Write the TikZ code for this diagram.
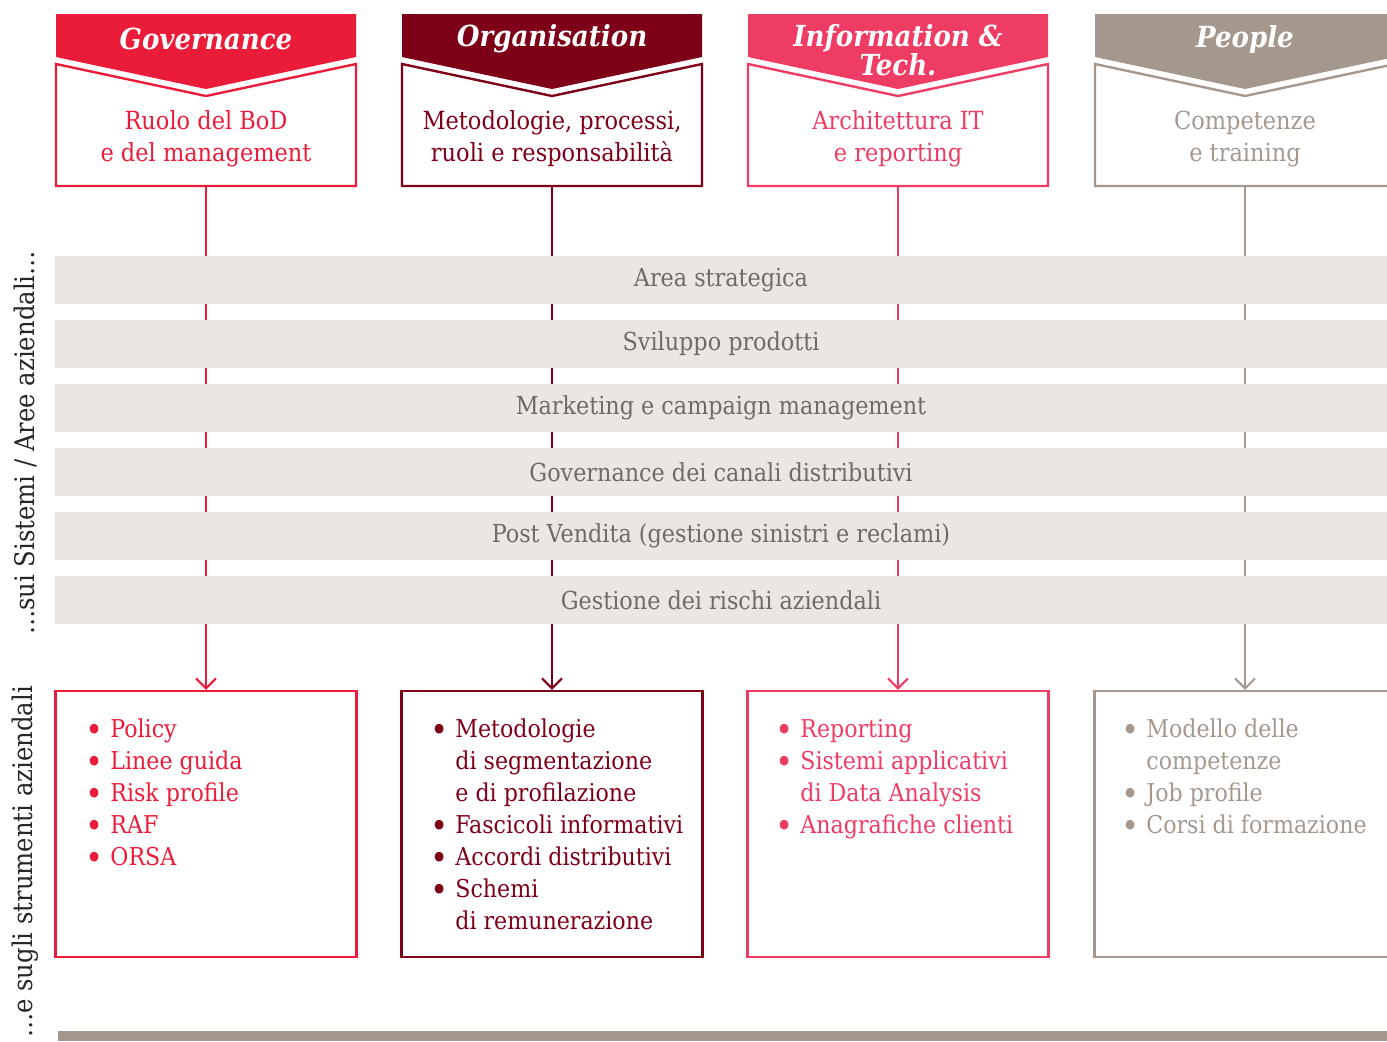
\documentclass[tikz,border=0pt]{standalone}
\usepackage{fontspec}
\setmainfont{DejaVu Serif Condensed}
\usetikzlibrary{arrows.meta}
\definecolor{govred}{RGB}{234,28,58}
\definecolor{orgred}{RGB}{126,0,24}
\definecolor{infpink}{RGB}{238,60,100}
\definecolor{taupe}{RGB}{164,152,142}
\definecolor{bandgray}{RGB}{234,230,227}
\definecolor{bandtext}{RGB}{110,106,102}
\definecolor{sidetext}{RGB}{38,38,38}
\newcommand{\bl}{\raisebox{-0.17em}{\scalebox{1.35}{\textbullet}}}

\begin{document}
\begin{tikzpicture}[x=0.5pt,y=-0.5pt,
  hdtitle/.style={text=white,align=center,font=\fontsize{14.5}{13.5}\selectfont\bfseries\itshape},
  hdtext/.style={align=center,font=\fontsize{12.5}{16}\selectfont},
  band/.style={fill=bandgray,minimum width=666pt,minimum height=24pt,inner sep=0pt,
    text=bandtext,font=\fontsize{12.4}{16}\selectfont},
  lowbox/.style={draw,line width=1.2pt,minimum width=150.5pt,minimum height=133pt,inner sep=0pt},
  items/.style={anchor=base west,inner sep=0pt,font=\fontsize{12.3}{16}\selectfont},
  flow/.style={line width=1pt,-{Straight Barb[length=5pt,width=10pt]}},
  side/.style={rotate=90,text=sidetext,font=\fontsize{13.5}{16}\selectfont}]
\useasboundingbox (0,0) rectangle (1387,1041);

% columns: header, box below, arrow
\foreach \cx/\n/\col/\ttl/\ty/\sub in {
  206/gov/govred/{Governance}/39/{Ruolo del BoD\\e del management},
  552/org/orgred/{Organisation}/39/{Metodologie, processi,\\ruoli e responsabilità},
  898/inf/infpink/{Information \&\\Tech.}/50/{Architettura IT\\e reporting},
  1245/peo/taupe/{People}/39/{Competenze\\e training}} {
  \fill[\col] (\cx-150,14) -- (\cx+150,14) -- (\cx+150,57) -- (\cx,89) -- (\cx-150,57) -- cycle;
  \draw[\col,line width=1.2pt] (\cx-150,64) -- (\cx,96) -- (\cx+150,64) -- (\cx+150,186) -- (\cx-150,186) -- cycle;
  \node[hdtitle] (\n-ttl) at (\cx,\ty) {\ttl};
  \node[hdtext,text=\col] (\n-sub) at (\cx,139) {\sub};
  \coordinate (\n-out) at (\cx,186);
  \node[lowbox,draw=\col] (\n-low) at (\cx,824) {};
  \draw[flow,\col] (\n-out) -- (\n-low.north);
}

% bands over the arrows
\foreach \t [count=\i from 0] in {Area strategica,Sviluppo prodotti,Marketing e campaign management,
  Governance dei canali distributivi,Post Vendita (gestione sinistri e reclami),Gestione dei rischi aziendali}
  \node[band] (band\i) at (721,280+64*\i) {\t};

% lists
\node[items,text=govred] (gov-list) at (85,737) {\begin{tabular}[t]{@{}p{12.5pt}@{}l@{}}
  \bl & Policy\\ \bl & Linee guida\\ \bl & Risk profile\\ \bl & RAF\\ \bl & ORSA\end{tabular}};
\node[items,text=orgred] (org-list) at (430,737) {\begin{tabular}[t]{@{}p{12.5pt}@{}l@{}}
  \bl & Metodologie\\ & di segmentazione\\ & e di profilazione\\ \bl & Fascicoli informativi\\
  \bl & Accordi distributivi\\ \bl & Schemi\\ & di remunerazione\end{tabular}};
\node[items,text=infpink] (inf-list) at (775,737) {\begin{tabular}[t]{@{}p{12.5pt}@{}l@{}}
  \bl & Reporting\\ \bl & Sistemi applicativi\\ & di Data Analysis\\ \bl & Anagrafiche clienti\end{tabular}};
\node[items,text=taupe] (peo-list) at (1121,737) {\begin{tabular}[t]{@{}p{12.5pt}@{}l@{}}
  \bl & Modello delle\\ & competenze\\ \bl & Job profile\\ \bl & Corsi di formazione\end{tabular}};

% side labels and bottom bar
\node[side] (side-top) at (25,443) {…sui Sistemi / Aree aziendali…};
\node[side] (side-low) at (25,862) {…e sugli strumenti aziendali};
\fill[taupe] (58,1031) rectangle (1387,1041);
\end{tikzpicture}
\end{document}
